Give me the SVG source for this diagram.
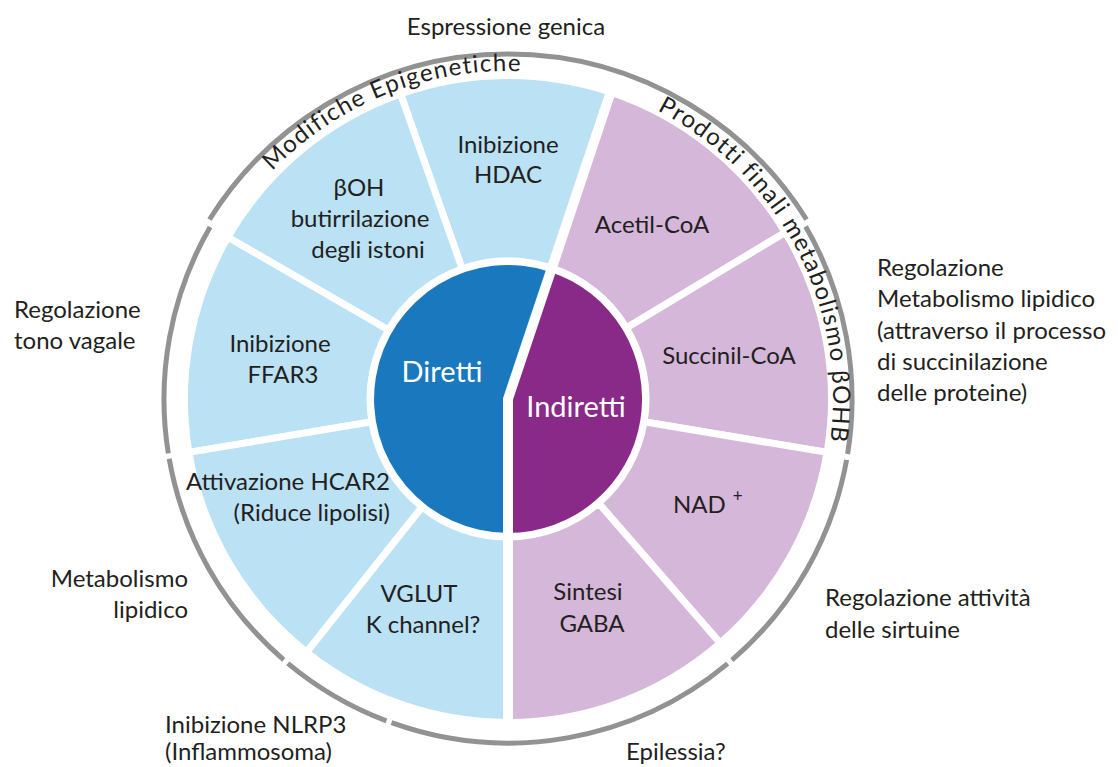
<svg xmlns="http://www.w3.org/2000/svg" width="1118" height="767" viewBox="0 0 1118 767">
  <style>
    text { font-family: Lato, "Open Sans", "DejaVu Sans", sans-serif; font-size: 24px; fill: #231f20; }
    .mid { text-anchor: middle; }
    .end { text-anchor: end; }
    .core { font-size: 29px; fill: #ffffff; text-anchor: middle; }
    .arc { letter-spacing: 1.3px; }
    .direct { fill: #bae1f4; stroke: #ffffff; stroke-width: 7; stroke-linejoin: miter; }
    .indirect { fill: #d5b7d9; stroke: #ffffff; stroke-width: 7; stroke-linejoin: miter; }
    .seg { fill: none; stroke: #929292; stroke-width: 5; }
  </style>
  <defs>
    <path id="arc-epi" d="M 256.7 188.2 A 328 328 0 0 1 564.9 76"/>
    <path id="arc-prod" d="M 640.2 102.1 A 325 325 0 0 1 825.9 466.6"/>
  </defs>

  <rect width="1118" height="767" fill="#ffffff"/>

  <!-- outer wedges, left half -->
  <g id="hdac">
    <path class="direct" d="M 400.5 93.9 A 323.5 323.5 0 0 1 610.6 92.2 L 551.8 268.1 A 138 138 0 0 0 462.2 268.8 Z"/>
    <text class="mid" x="508" y="153">Inibizione</text>
    <text class="mid" x="508" y="183">HDAC</text>
  </g>
  <g id="butyrylation">
    <path class="direct" d="M 227.8 237.2 A 323.5 323.5 0 0 1 400.5 93.9 L 462.2 268.8 A 138 138 0 0 0 388.5 330 Z"/>
    <text class="mid" x="359" y="196">βOH</text>
    <text class="mid" x="360" y="227">butirrilazione</text>
    <text class="mid" x="368" y="258">degli istoni</text>
  </g>
  <g id="ffar3">
    <path class="direct" d="M 188.9 452.4 A 323.5 323.5 0 0 1 227.8 237.2 L 388.5 330 A 138 138 0 0 0 371.9 421.8 Z"/>
    <text class="mid" x="280" y="352">Inibizione</text>
    <text class="mid" x="283" y="383">FFAR3</text>
  </g>
  <g id="hcar2">
    <path class="direct" d="M 306.6 652.2 A 323.5 323.5 0 0 1 188.9 452.4 L 371.9 421.8 A 138 138 0 0 0 422.1 507 Z"/>
    <text class="end" x="390" y="490">Attivazione HCAR2</text>
    <text class="end" x="390" y="521">(Riduce lipolisi)</text>
  </g>
  <g id="vglut">
    <path class="direct" d="M 508 722.5 A 323.5 323.5 0 0 1 306.6 652.2 L 422.1 507 A 138 138 0 0 0 508 537 Z"/>
    <text class="mid" x="419" y="602">VGLUT</text>
    <text class="mid" x="423" y="633">K channel?</text>
  </g>

  <!-- outer wedges, right half -->
  <g id="acetyl-coa">
    <path class="indirect" d="M 610.6 92.2 A 323.5 323.5 0 0 1 785.3 232.4 L 626.3 327.9 A 138 138 0 0 0 551.8 268.1 Z"/>
    <text class="mid" x="652" y="233">Acetil-CoA</text>
  </g>
  <g id="succinyl-coa">
    <path class="indirect" d="M 785.3 232.4 A 323.5 323.5 0 0 1 827.1 452.4 L 644.1 421.8 A 138 138 0 0 0 626.3 327.9 Z"/>
    <text class="mid" x="729" y="364">Succinil-CoA</text>
  </g>
  <g id="nad">
    <path class="indirect" d="M 827.1 452.4 A 323.5 323.5 0 0 1 720.2 643.1 L 598.5 503.1 A 138 138 0 0 0 644.1 421.8 Z"/>
    <text x="673" y="513">NAD<tspan dx="7" dy="-11" font-size="17">+</tspan></text>
  </g>
  <g id="gaba">
    <path class="indirect" d="M 720.2 643.1 A 323.5 323.5 0 0 1 508 722.5 L 508 537 A 138 138 0 0 0 598.5 503.1 Z"/>
    <text class="mid" x="588" y="600">Sintesi</text>
    <text class="mid" x="592" y="632">GABA</text>
  </g>

  <!-- core halves -->
  <g id="diretti">
    <path fill="#1a78bf" d="M 508 399 L 508 533 A 134 134 0 1 1 550.5 271.9 Z"/>
    <text class="core" x="442" y="382">Diretti</text>
  </g>
  <g id="indiretti">
    <path fill="#8a2a88" d="M 508 399 L 550.5 271.9 A 134 134 0 0 1 508 533 Z"/>
    <text class="core" x="576" y="417">Indiretti</text>
  </g>
  <!-- split between the two halves -->
  <path d="M 612.1 88 L 508 399 L 508 726" fill="none" stroke="#ffffff" stroke-width="10" stroke-linejoin="miter"/>

  <!-- bracket arcs around the wheel -->
  <g id="ring">
    <path class="seg" d="M 209.5 219.5 A 352 352 0 0 1 806.5 219.5"/>
    <path class="seg" d="M 805.6 226.5 A 344 344 0 0 1 847.6 454"/>
    <path class="seg" d="M 846.6 459.9 A 344 344 0 0 1 731.9 660.2"/>
    <path class="seg" d="M 727.7 663.7 A 344 344 0 0 1 391.5 722.7"/>
    <path class="seg" d="M 386.4 720.8 A 344 344 0 0 1 287.8 663.3"/>
    <path class="seg" d="M 283.7 659.8 A 344 344 0 0 1 169.2 458.7"/>
    <path class="seg" d="M 168.3 453.4 A 344 344 0 0 1 210.1 227"/>
  </g>

  <!-- curved group titles -->
  <g id="epigenetic-title">
    <text class="arc"><textPath href="#arc-epi" startOffset="23">Modifiche Epigenetiche</textPath></text>
  </g>
  <g id="products-title">
    <text class="arc"><textPath href="#arc-prod" startOffset="19">Prodotti finali metabolismo βOHB</textPath></text>
  </g>

  <!-- outcome labels -->
  <g id="gene-expression">
    <text class="mid" x="506" y="35">Espressione genica</text>
  </g>
  <g id="vagal-tone">
    <text x="14" y="318">Regolazione</text>
    <text x="14" y="349">tono vagale</text>
  </g>
  <g id="lipid-metabolism">
    <text class="end" x="188" y="587">Metabolismo</text>
    <text class="end" x="188" y="618">lipidico</text>
  </g>
  <g id="nlrp3">
    <text x="165" y="733">Inibizione NLRP3</text>
    <text x="165" y="760">(Inflammosoma)</text>
  </g>
  <g id="epilepsy">
    <text x="626" y="760">Epilessia?</text>
  </g>
  <g id="sirtuins">
    <text x="825" y="606">Regolazione attività</text>
    <text x="825" y="638">delle sirtuine</text>
  </g>
  <g id="succinylation">
    <text x="877" y="276">Regolazione</text>
    <text x="877" y="307">Metabolismo lipidico</text>
    <text x="877" y="339">(attraverso il processo</text>
    <text x="877" y="370">di succinilazione</text>
    <text x="877" y="401">delle proteine)</text>
  </g>
</svg>
